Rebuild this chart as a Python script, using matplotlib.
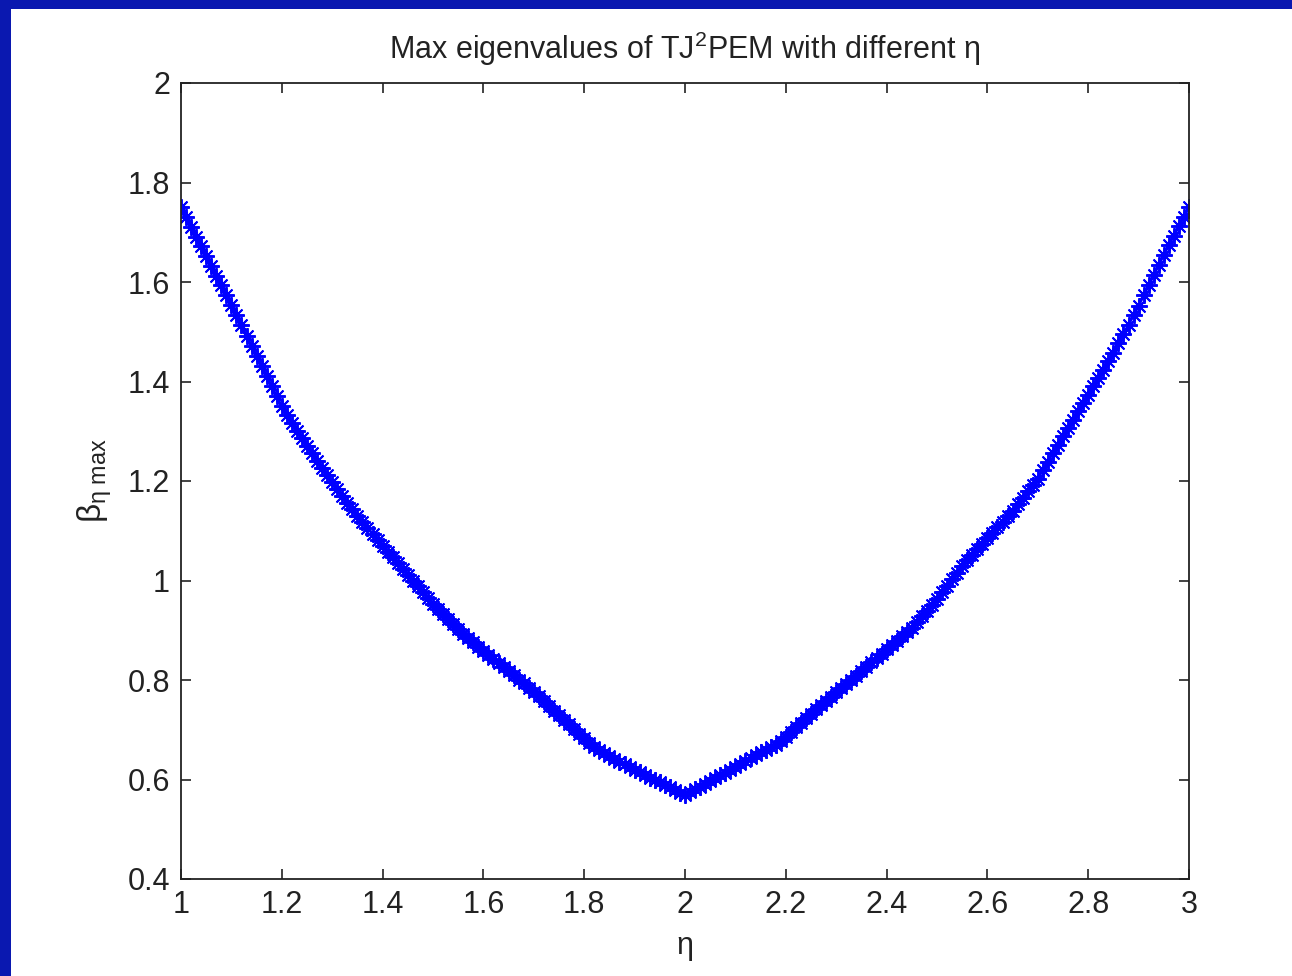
import numpy as np
import matplotlib
matplotlib.use('Agg')
import matplotlib.pyplot as plt
from matplotlib.patches import Rectangle
from matplotlib.ticker import FormatStrFormatter

plt.rcParams['font.family'] = ['Liberation Sans', 'DejaVu Sans']
plt.rcParams['mathtext.fontset'] = 'custom'
plt.rcParams['mathtext.rm'] = 'Liberation Sans'
plt.rcParams['mathtext.it'] = 'Liberation Sans'

# eta sweep 1:0.01:3
eta = np.arange(100, 301) / 100.0

# max eigenvalue, eta = 1.00 .. 2.00
beta_left = [
    1.750, 1.730, 1.711, 1.691, 1.672, 1.652, 1.632, 1.612, 1.593, 1.573,
    1.553, 1.533, 1.513, 1.492, 1.472, 1.452, 1.432, 1.411, 1.391, 1.370,
    1.350, 1.333, 1.317, 1.301, 1.286, 1.271, 1.256, 1.241, 1.226, 1.212,
    1.197, 1.183, 1.170, 1.156, 1.143, 1.130, 1.118, 1.106, 1.094, 1.082,
    1.070, 1.058, 1.047, 1.035, 1.024, 1.012, 1.000, 0.988, 0.976, 0.964,
    0.952, 0.942, 0.932, 0.922, 0.912, 0.902, 0.893, 0.884, 0.876, 0.867,
    0.858, 0.850, 0.842, 0.834, 0.826, 0.818, 0.810, 0.801, 0.793, 0.784,
    0.776, 0.767, 0.757, 0.748, 0.738, 0.729, 0.720, 0.711, 0.701, 0.692,
    0.683, 0.674, 0.665, 0.659, 0.653, 0.647, 0.642, 0.636, 0.631, 0.625,
    0.620, 0.615, 0.610, 0.604, 0.599, 0.594, 0.589, 0.584, 0.578, 0.573,
    0.568,
]
# eta = 2.01 .. 3.00
beta_right = [
    0.574, 0.580, 0.585, 0.591, 0.597, 0.603, 0.609, 0.614, 0.620, 0.626,
    0.632, 0.638, 0.643, 0.649, 0.655, 0.660, 0.665, 0.670, 0.678, 0.686,
    0.695, 0.705, 0.714, 0.723, 0.732, 0.741, 0.749, 0.758, 0.766, 0.775,
    0.784, 0.792, 0.801, 0.809, 0.818, 0.827, 0.836, 0.844, 0.853, 0.862,
    0.871, 0.879, 0.888, 0.896, 0.905, 0.916, 0.928, 0.939, 0.951, 0.962,
    0.976, 0.989, 1.003, 1.016, 1.030, 1.041, 1.052, 1.063, 1.074, 1.085,
    1.096, 1.107, 1.118, 1.129, 1.140, 1.153, 1.166, 1.179, 1.192, 1.205,
    1.222, 1.239, 1.256, 1.273, 1.290, 1.307, 1.323, 1.340, 1.356, 1.373,
    1.390, 1.407, 1.424, 1.441, 1.458, 1.477, 1.496, 1.514, 1.533, 1.552,
    1.573, 1.593, 1.614, 1.634, 1.655, 1.674, 1.693, 1.712, 1.731, 1.750,
]
beta_max = np.array(beta_left + beta_right)

xticks = [1, 1.2, 1.4, 1.6, 1.8, 2, 2.2, 2.4, 2.6, 2.8, 3]
yticks = [0.4, 0.6, 0.8, 1, 1.2, 1.4, 1.6, 1.8, 2]

fig = plt.figure(figsize=(12.92, 9.76), dpi=100, facecolor='#0a18b0')
# white matlab figure window on the blue slide
fig.patches.append(Rectangle((11 / 1292, 0), 1, (976 - 9) / 976,
                             transform=fig.transFigure, facecolor='white',
                             edgecolor='none', zorder=-10))

ax = fig.add_axes([181 / 1292, 97 / 976, 1008 / 1292, 796 / 976])
ax.plot(eta, beta_max, color='blue', linestyle='-', linewidth=2,
        marker=(8, 2, 0), markersize=12, markeredgewidth=1.4)

ax.set_xlim(1, 3)
ax.set_ylim(0.4, 2)
ax.set_xticks(xticks)
ax.set_yticks(yticks)
ax.xaxis.set_major_formatter(FormatStrFormatter('%g'))
ax.yaxis.set_major_formatter(FormatStrFormatter('%g'))
ax.tick_params(direction='in', length=7, width=1.2, top=True, right=True,
               labelsize=22, pad=8, colors='#222222')
for s in ax.spines.values():
    s.set_linewidth(1.3)
    s.set_color('#222222')

ax.set_title('Max eigenvalues of TJ$^{2}$PEM with different η', fontsize=22,
             pad=17, color='#222222')
ax.set_xlabel('η', fontsize=22, labelpad=8, color='#222222')
ax.set_ylabel(r'$\beta_{\eta\ \mathrm{max}}$', fontsize=24, labelpad=10,
              color='#222222')

fig.savefig('out.png', dpi=100, facecolor=fig.get_facecolor())
